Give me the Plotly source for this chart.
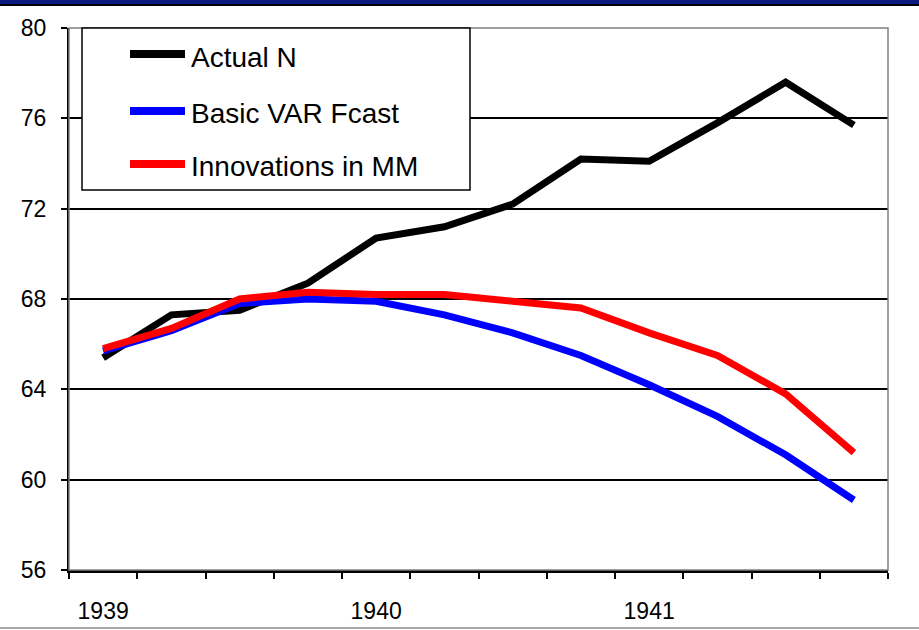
import plotly.graph_objects as go

# quarterly data
quarters = [
    "1939Q1", "1939Q2", "1939Q3", "1939Q4",
    "1940Q1", "1940Q2", "1940Q3", "1940Q4",
    "1941Q1", "1941Q2", "1941Q3", "1941Q4",
]
tick_labels = ["1939", "", "", "", "1940", "", "", "", "1941", "", "", ""]

actual_n = [65.4, 67.3, 67.5, 68.7, 70.7, 71.2, 72.2, 74.2, 74.1, 75.8, 77.6, 75.7]
basic_var = [65.7, 66.6, 67.8, 68.0, 67.9, 67.3, 66.5, 65.5, 64.2, 62.8, 61.1, 59.1]
innov_mm = [65.8, 66.7, 68.0, 68.3, 68.2, 68.2, 67.9, 67.6, 66.5, 65.5, 63.8, 61.2]

series_names = ["Actual N", "Basic VAR Fcast", "Innovations in MM"]
series_colors = ["#000000", "#0000ff", "#ff0000"]
series_values = [actual_n, basic_var, innov_mm]

W, H = 919, 630
L, R, T, B = 69, 31, 28, 60
FONT = "Arial, Liberation Sans, sans-serif"


def px_x(x):
    return (x - L) / (W - L - R)


def px_y(y):
    return (H - B - y) / (H - T - B)


fig = go.Figure()
for name, color, vals in zip(series_names, series_colors, series_values):
    fig.add_trace(
        go.Scatter(
            x=quarters,
            y=vals,
            mode="lines",
            name=name,
            line=dict(color=color, width=7),
            showlegend=False,
        )
    )

shapes = []
# gray frame on top/right of plot area
shapes.append(dict(type="rect", xref="paper", yref="paper", x0=0, x1=1, y0=0, y1=1,
                   line=dict(color="#808080", width=1.5), layer="above"))
# navy band + dark rule at the very top
shapes.append(dict(type="rect", xref="paper", yref="paper", x0=px_x(0), x1=px_x(W),
                   y0=px_y(4), y1=px_y(0), fillcolor="#0c1a80", line=dict(width=0)))
shapes.append(dict(type="line", xref="paper", yref="paper", x0=px_x(0), x1=px_x(W),
                   y0=px_y(5), y1=px_y(5), line=dict(color="#000000", width=2)))
# light rule at the bottom
shapes.append(dict(type="line", xref="paper", yref="paper", x0=px_x(0), x1=px_x(W),
                   y0=px_y(628), y1=px_y(628), line=dict(color="#a8a8a8", width=2)))

# legend box drawn by hand so the keys are long like the original
shapes.append(dict(type="rect", xref="paper", yref="paper", x0=px_x(82), x1=px_x(470),
                   y0=px_y(190), y1=px_y(28), fillcolor="white",
                   line=dict(color="#000000", width=1.5), layer="above"))
annotations = []
key_rows = [54, 111, 164]
for name, color, ky in zip(series_names, series_colors, key_rows):
    shapes.append(dict(type="line", xref="paper", yref="paper", x0=px_x(130), x1=px_x(185),
                       y0=px_y(ky), y1=px_y(ky), line=dict(color=color, width=8), layer="above"))
    annotations.append(dict(xref="paper", yref="paper", x=px_x(189), y=px_y(ky + 3),
                            xanchor="left", yanchor="middle", text=name, showarrow=False,
                            font=dict(family=FONT, size=28, color="black")))

fig.update_layout(
    width=W,
    height=H,
    margin=dict(l=L, r=R, t=T, b=B),
    plot_bgcolor="white",
    paper_bgcolor="white",
    font=dict(family=FONT, color="black"),
    shapes=shapes,
    annotations=annotations,
)
fig.update_xaxes(
    type="category",
    categoryorder="array",
    categoryarray=quarters,
    tickmode="array",
    tickvals=quarters,
    ticktext=tick_labels,
    tickson="boundaries",
    ticks="outside",
    ticklen=6,
    tickwidth=1.5,
    tickcolor="black",
    showline=True,
    linecolor="black",
    linewidth=2.5,
    showgrid=False,
    tickfont=dict(size=23),
    ticklabelstandoff=19,
    automargin=False,
    range=[-0.5, 11.5],
)
fig.update_yaxes(
    range=[56, 80],
    tick0=56,
    dtick=4,
    ticks="outside",
    ticklen=6,
    tickwidth=1.5,
    tickcolor="black",
    showline=True,
    linecolor="black",
    linewidth=2,
    showgrid=True,
    gridcolor="black",
    gridwidth=1.5,
    zeroline=False,
    tickfont=dict(size=23),
    ticklabelstandoff=10,
    automargin=False,
)

# drop the browser's default body margin so the figure sits at the page origin
fig.write_html(
    "out.html",
    config={"displayModeBar": False},
    post_script="document.body.style.margin='0';",
)
